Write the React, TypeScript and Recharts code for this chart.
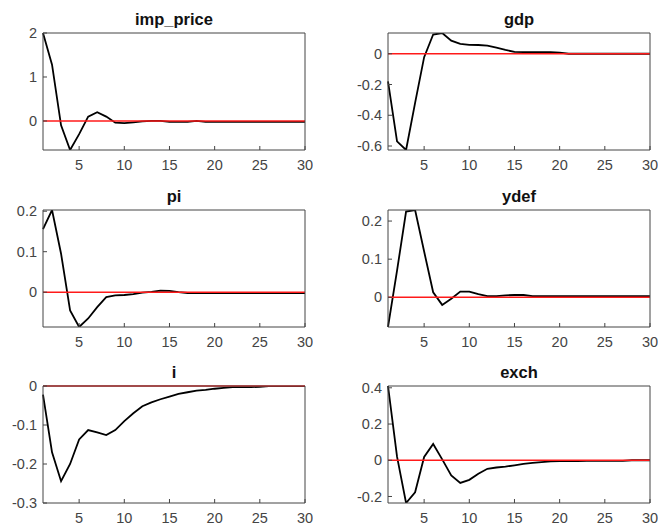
import { LineChart, Line, XAxis, YAxis, ReferenceLine } from 'recharts';

// impulse responses, periods 1..30
const steps = [1, 2, 3, 4, 5, 6, 7, 8, 9, 10, 11, 12, 13, 14, 15, 16, 17, 18, 19, 20, 21, 22, 23, 24, 25, 26, 27, 28, 29, 30];

const impPrice = [2.0, 1.28, -0.1, -0.66, -0.3, 0.1, 0.2, 0.1, -0.04, -0.05, -0.03, -0.01, 0, 0, -0.02, -0.02, -0.02, 0, -0.02, -0.02, -0.02, -0.02, -0.02, -0.02, -0.02, -0.02, -0.02, -0.02, -0.02, -0.02];
const gdp = [-0.18, -0.57, -0.626, -0.32, -0.022, 0.125, 0.135, 0.085, 0.064, 0.058, 0.057, 0.053, 0.04, 0.025, 0.012, 0.01, 0.01, 0.01, 0.01, 0.008, 0, 0, 0, 0, 0, 0, 0, 0, 0, 0];
const pi = [0.156, 0.203, 0.095, -0.045, -0.086, -0.065, -0.037, -0.012, -0.008, -0.007, -0.005, -0.001, 0.001, 0.004, 0.003, 0, -0.002, -0.002, -0.002, -0.002, -0.002, -0.002, -0.002, -0.002, -0.002, -0.002, -0.002, -0.002, -0.002, -0.002];
const ydef = [-0.078, 0.07, 0.225, 0.229, 0.12, 0.013, -0.02, -0.004, 0.015, 0.015, 0.008, 0.003, 0.003, 0.005, 0.006, 0.006, 0.003, 0.003, 0.003, 0.003, 0.003, 0.003, 0.003, 0.003, 0.003, 0.003, 0.003, 0.003, 0.003, 0.003];
const rate = [-0.022, -0.17, -0.244, -0.2, -0.137, -0.113, -0.119, -0.126, -0.113, -0.09, -0.07, -0.052, -0.042, -0.034, -0.027, -0.02, -0.016, -0.012, -0.01, -0.007, -0.005, -0.003, -0.003, -0.003, -0.002, 0, 0, 0, 0, 0];
const exch = [0.41, 0.02, -0.236, -0.177, 0.018, 0.09, 0.005, -0.084, -0.125, -0.108, -0.074, -0.047, -0.04, -0.035, -0.028, -0.02, -0.015, -0.01, -0.006, -0.005, -0.004, -0.004, -0.003, -0.003, -0.003, -0.003, -0.003, 0, 0, 0];

const xTicks = [5, 10, 15, 20, 25, 30];

const BOX_W = 262;
const BOX_H = 117;
const PAD_L = 43;
const PAD_T = 33;
const PAD_R = 8;
const PAD_B = 26;

const AXIS = '#444';
const TEXT = '#444';

interface PanelProps {
  title: string;
  values: number[];
  yDomain: [number, number];
  yTicks: number[];
  left: number;
  top: number;
}

function Panel({ title, values, yDomain, yTicks, left, top }: PanelProps) {
  const data = steps.map((s, i) => ({ step: s, value: values[i] }));
  return (
    <div style={{ position: 'absolute', left: left - PAD_L, top: top - PAD_T }}>
      <div
        style={{
          position: 'absolute',
          left: PAD_L,
          width: BOX_W,
          top: PAD_T - 24,
          textAlign: 'center',
          fontWeight: 'bold',
          fontSize: 16.5,
          lineHeight: '20px',
          color: '#111',
        }}
      >
        {title}
      </div>
      <LineChart
        width={PAD_L + BOX_W + PAD_R}
        height={PAD_T + BOX_H + PAD_B}
        data={data}
        margin={{ top: PAD_T - 1, right: PAD_R - 1, bottom: 0, left: 0 }}
      >
        <XAxis
          xAxisId="b"
          dataKey="step"
          type="number"
          domain={[1, 30]}
          ticks={xTicks}
          interval={0}
          height={PAD_B}
          tickSize={-4}
          tickMargin={14}
          stroke={AXIS}
          tick={{ fill: TEXT, fontSize: 14.5 }}
        />
        <XAxis
          xAxisId="t"
          orientation="top"
          dataKey="step"
          type="number"
          domain={[1, 30]}
          ticks={xTicks}
          interval={0}
          height={1}
          tickSize={-4}
          tick={false}
          stroke={AXIS}
        />
        <YAxis
          yAxisId="l"
          type="number"
          domain={yDomain}
          ticks={yTicks}
          interval={0}
          allowDataOverflow
          width={PAD_L}
          tickSize={-4}
          tickMargin={10}
          stroke={AXIS}
          tick={{ fill: TEXT, fontSize: 14.5 }}
        />
        <YAxis
          yAxisId="r"
          orientation="right"
          type="number"
          domain={yDomain}
          ticks={yTicks}
          interval={0}
          allowDataOverflow
          width={1}
          tickSize={-4}
          tick={false}
          stroke={AXIS}
        />
        <Line
          xAxisId="b"
          yAxisId="l"
          type="linear"
          dataKey="value"
          stroke="#000"
          strokeWidth={1.8}
          dot={false}
          isAnimationActive={false}
        />
        <ReferenceLine xAxisId="b" yAxisId="l" y={0} stroke="#ff1a1a" strokeWidth={1.5} />
      </LineChart>
    </div>
  );
}

export default function App() {
  return (
    <div
      style={{
        position: 'absolute',
        left: 0,
        top: 0,
        width: 660,
        height: 526,
        background: '#fff',
        fontFamily: '"Liberation Sans", Arial, sans-serif',
      }}
    >
      <Panel title="imp_price" values={impPrice} yDomain={[-0.66, 2]} yTicks={[0, 1, 2]} left={43} top={33} />
      <Panel title="gdp" values={gdp} yDomain={[-0.626, 0.135]} yTicks={[-0.6, -0.4, -0.2, 0]} left={388} top={33} />
      <Panel title="pi" values={pi} yDomain={[-0.086, 0.203]} yTicks={[0, 0.1, 0.2]} left={43} top={209.5} />
      <Panel title="ydef" values={ydef} yDomain={[-0.078, 0.229]} yTicks={[0, 0.1, 0.2]} left={388} top={209.5} />
      <Panel title="i" values={rate} yDomain={[-0.3, 0]} yTicks={[-0.3, -0.2, -0.1, 0]} left={43} top={386} />
      <Panel title="exch" values={exch} yDomain={[-0.236, 0.41]} yTicks={[-0.2, 0, 0.2, 0.4]} left={388} top={386} />
    </div>
  );
}
